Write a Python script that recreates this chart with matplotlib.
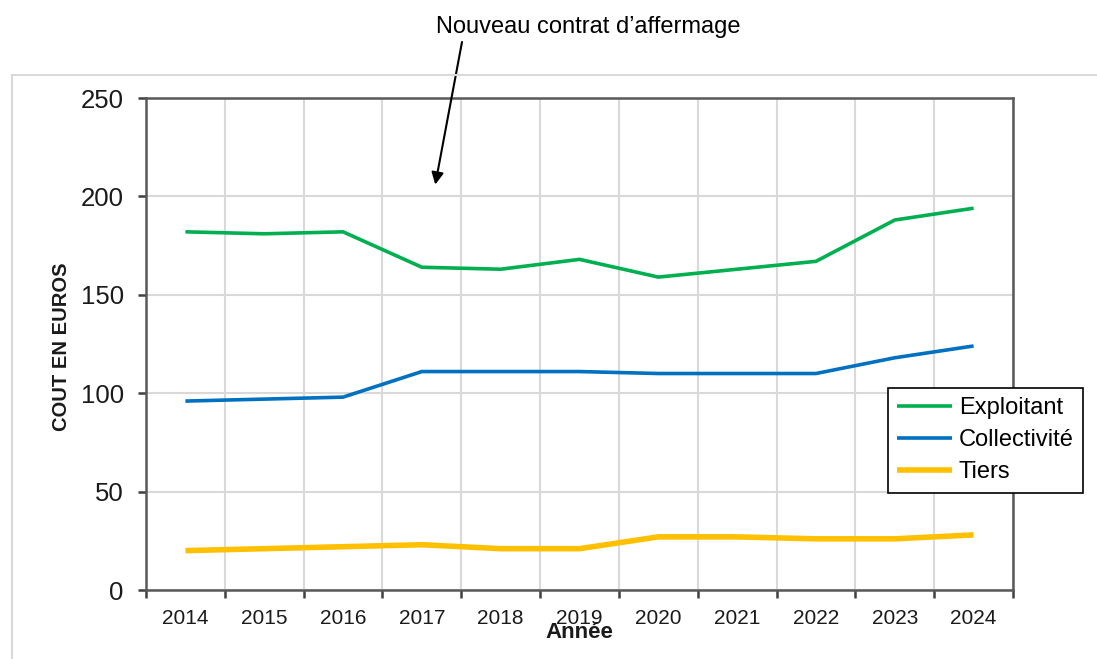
import matplotlib
matplotlib.use("Agg")
import matplotlib.pyplot as plt
from matplotlib.patches import Rectangle

plt.rcParams['font.family'] = ['Liberation Sans', 'DejaVu Sans']

years = ['2014', '2015', '2016', '2017', '2018', '2019', '2020', '2021', '2022', '2023', '2024']
exploitant = [182, 181, 182, 164, 163, 168, 159, 163, 167, 188, 194]
collectivite = [96, 97, 98, 111, 111, 111, 110, 110, 110, 118, 124]
tiers = [20, 21, 22, 23, 21, 21, 27, 27, 26, 26, 28]
series_names = ['Exploitant', 'Collectivité', 'Tiers']
annotation_text = 'Nouveau contrat d\u2019affermage'

W, H = 1097, 659
fig = plt.figure(figsize=(W / 100, H / 100), dpi=100)
fig.patch.set_facecolor('white')

# outer chart-area frame
fig.patches.append(Rectangle((12 / W, -0.1), 1.2, 1 - 75 / H + 0.1,
                             transform=fig.transFigure, fill=False,
                             edgecolor='#D9D9D9', lw=1.5))

ax = fig.add_axes([146 / W, 1 - 590 / H, (1013 - 146) / W, (590 - 98) / H])

x = list(range(len(years)))
ax.plot(x, exploitant, color='#00B050', lw=2.6, label=series_names[0], solid_capstyle='butt', zorder=3)
ax.plot(x, collectivite, color='#0070C0', lw=2.6, label=series_names[1], solid_capstyle='butt', zorder=3)
ax.plot(x, tiers, color='#FFC000', lw=4.0, label=series_names[2], solid_capstyle='butt', zorder=3)

ax.set_xlim(-0.5, len(years) - 0.5)
ax.set_ylim(0, 250)
ax.set_yticks(range(0, 251, 50))
ax.set_xticks(x)
ax.set_xticklabels(years, fontsize=15)
ax.set_xticks([i - 0.5 for i in range(len(years) + 1)], minor=True)
ax.tick_params(axis='x', which='major', length=0, pad=14, colors='#1a1a1a')
ax.tick_params(axis='x', which='minor', length=6, width=1.8, color='#404040', direction='out')
ax.tick_params(axis='y', which='major', length=6, width=1.8, color='#404040', pad=10,
               labelsize=18.5, labelcolor='#1a1a1a', direction='out')

ax.grid(True, axis='y', which='major', color='#D9D9D9', lw=1.5, zorder=0)
ax.grid(True, axis='x', which='minor', color='#D9D9D9', lw=1.5, zorder=0)
ax.set_axisbelow(True)
for s in ax.spines.values():
    s.set_color('#595959')
    s.set_linewidth(1.8)

ax.set_xlabel('Année', fontsize=16, fontweight='bold', color='#1a1a1a')
ax.xaxis.set_label_coords(0.5, -0.087)
ax.xaxis.label.set_va('center')
ax.set_ylabel('COUT EN EUROS', fontsize=14.5, fontweight='bold', color='#1a1a1a')
ax.yaxis.set_label_coords(-0.098, 0.494)
ax.yaxis.label.set_va('center')

leg = ax.legend(loc='upper left', bbox_to_anchor=(888 / W, 1 - 388 / H),
                bbox_transform=fig.transFigure, fontsize=17, frameon=True,
                fancybox=False, framealpha=1, edgecolor='black',
                handlelength=2.3, handletextpad=0.3, labelspacing=0.42,
                borderpad=0.4, borderaxespad=0)
leg.get_frame().set_linewidth(1.2)

fig.text(588 / W, 1 - 27 / H, annotation_text, fontsize=17, ha='center', va='center', color='black')
ax.annotate('', xy=(3.17, 206), xycoords='data',
            xytext=(462 / W, 1 - 42 / H), textcoords='figure fraction',
            arrowprops=dict(arrowstyle='-|>', color='black', lw=1.5, mutation_scale=18,
                            shrinkA=0, shrinkB=0))

fig.savefig('out.png', dpi=100)
